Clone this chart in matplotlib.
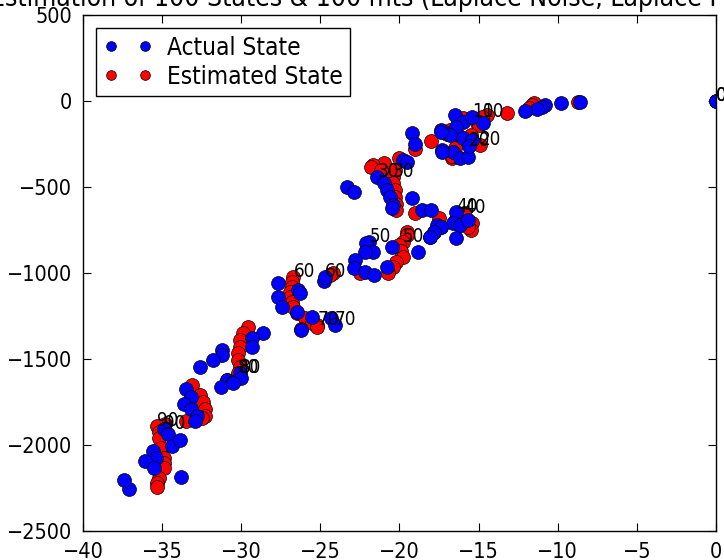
import matplotlib
matplotlib.use('Agg')
import matplotlib.pyplot as plt
from matplotlib.lines import Line2D

plt.rcParams['font.family'] = ['DejaVu Sans']
plt.rcParams['font.stretch'] = 'condensed'

TITLE = 'Estimation of 100 States & 100 mts (Laplace Noise, Laplace Process)'

# actual states (10 per row)
actual_x = [
    0.0, -8.6, -9.8, -10.8, -11.0, -11.3, -12.1, -16.5, -16.0, -14.7,
    -15.4, -16.4, -17.4, -16.8, -16.0, -15.4, -16.6, -16.2, -15.7, -17.3,
    -15.6, -17.4, -19.2, -19.0, -17.3, -37.1, -19.8, -19.5, -23.3, -22.9,
    -21.4, -21.0, -20.8, -20.6, -20.4, -20.5, -19.2, -18.6, -18.0, -17.6,
    -16.4, -16.6, -16.2, -15.7, -16.4, -17.4, -17.8, -18.1, -18.8, -20.5,
    -21.9, -22.1, -21.7, -22.2, -22.8, -22.9, -22.2, -21.6, -20.8, -24.8,
    -24.7, -26.4, -26.3, -27.7, -27.7, -27.4, -26.5, -25.5, -26.2, -24.3,
    -24.1, -28.6, -29.3, -29.3, -31.2, -31.2, -31.8, -32.6, -30.9, -30.5,
    -30.1, -30.0, -31.3, -30.5, -33.5, -33.2, -33.6, -33.2, -32.8, -32.9,
    -34.9, -34.6, -34.4, -33.9, -35.6, -35.4, -36.1, -35.5, -33.8, -37.4,
]
actual_y = [
    0, -5, -12, -23, -35, -47, -58, -81, -122, -128,
    -93, -151, -169, -198, -215, -227, -297, -331, -326, -285,
    -262, -180, -186, -250, -297, -2256, -343, -355, -500, -529,
    -442, -477, -517, -558, -605, -622, -564, -634, -634, -721,
    -645, -709, -721, -692, -797, -733, -762, -791, -878, -849,
    -820, -826, -878, -878, -924, -971, -994, -1012, -965, -1045,
    -1023, -1099, -1116, -1058, -1140, -1198, -1227, -1256, -1331, -1262,
    -1302, -1349, -1378, -1430, -1448, -1477, -1506, -1547, -1622, -1634,
    -1580, -1611, -1663, -1640, -1675, -1721, -1762, -1791, -1831, -1860,
    -1905, -1936, -2006, -1971, -2035, -2076, -2093, -2134, -2186, -2204,
]

# estimated states
est_x = [
    0.0, -8.7, -11.5, -11.6, -11.8, -13.2, -14.5, -16.0, -16.3, -15.1,
    -14.8, -15.0, -16.8, -16.8, -16.3, -16.0, -16.5, -16.6, -16.7, -16.7,
    -14.9, -15.5, -17.0, -18.0, -19.0, -20.0, -21.0, -21.7, -21.8, -21.2,
    -20.4, -20.3, -20.4, -20.3, -20.3, -20.2, -20.2, -19.0, -17.5, -16.5,
    -15.9, -15.4, -15.5, -15.7, -16.2, -17.4, -17.8, -18.1, -19.5, -19.5,
    -19.8, -20.0, -19.9, -19.8, -20.2, -20.4, -20.7, -22.5, -24.2, -24.4,
    -26.7, -26.8, -26.8, -26.9, -26.9, -26.8, -26.7, -26.5, -26.0, -25.5,
    -25.2, -25.2, -26.2, -29.6, -29.9, -30.1, -30.1, -30.2, -30.2, -30.1,
    -30.2, -30.9, -33.1, -32.6, -32.4, -32.3, -32.3, -32.5, -33.5, -34.8,
    -35.3, -35.2, -35.2, -35.1, -34.9, -34.9, -34.9, -35.2, -35.3, -35.3,
]
est_y = [
    0, -5, -12, -25, -40, -70, -80, -100, -115, -128,
    -93, -140, -169, -186, -200, -230, -273, -297, -331, -320,
    -256, -200, -190, -230, -280, -331, -360, -372, -384, -400,
    -442, -401, -477, -517, -560, -600, -634, -650, -680, -700,
    -650, -709, -750, -735, -721, -735, -762, -790, -762, -780,
    -820, -837, -870, -907, -936, -965, -1000, -1000, -1000, -1010,
    -1023, -1050, -1081, -1110, -1140, -1170, -1198, -1233, -1260, -1290,
    -1302, -1314, -1325, -1314, -1349, -1390, -1430, -1465, -1506, -1547,
    -1580, -1622, -1651, -1709, -1750, -1791, -1831, -1843, -1860, -1875,
    -1890, -1925, -1959, -2017, -2076, -2105, -2134, -2192, -2220, -2244,
]

label_every = 10

fig = plt.figure(figsize=(7.24, 5.6), dpi=100, facecolor='white')
ax = fig.add_axes([83 / 724, 29 / 560, 633 / 724, 516 / 560])

ax.plot(est_x, est_y, 'o', color='red', ms=10, mec='black', mew=0.5, zorder=2)
ax.plot(actual_x, actual_y, 'o', color='blue', ms=10, mec='black', mew=0.5, zorder=2)

for i in range(0, len(actual_x), label_every):
    ax.annotate(str(i), (actual_x[i], actual_y[i]), fontsize=13.5)
    ax.annotate(str(i), (est_x[i], est_y[i]), fontsize=13.5)

ax.set_xlim(-40, 0)
ax.set_ylim(-2500, 500)
ax.set_xticks(range(-40, 1, 5))
ax.set_yticks(range(-2500, 501, 500))
ax.tick_params(direction='in', top=True, right=True, length=6, width=0.8,
               labelsize=15.5, pad=8)
for sp in ax.spines.values():
    sp.set_linewidth(1.0)

ax.set_title(TITLE, fontsize=19, pad=6.5)

handles = [
    Line2D([], [], ls='none', marker='o', color='blue', ms=7, mec='black', mew=0.5),
    Line2D([], [], ls='none', marker='o', color='red', ms=7, mec='black', mew=0.5),
]
leg = ax.legend(handles, ['Actual State', 'Estimated State'], loc='upper left',
                numpoints=2, fontsize=17.5, fancybox=False, framealpha=1,
                edgecolor='black', borderaxespad=0.55, handlelength=2.0,
                handletextpad=0.6, borderpad=0.3, labelspacing=0.2)
leg.get_frame().set_linewidth(1.0)

fig.savefig('out.png', dpi=100, facecolor='white')
